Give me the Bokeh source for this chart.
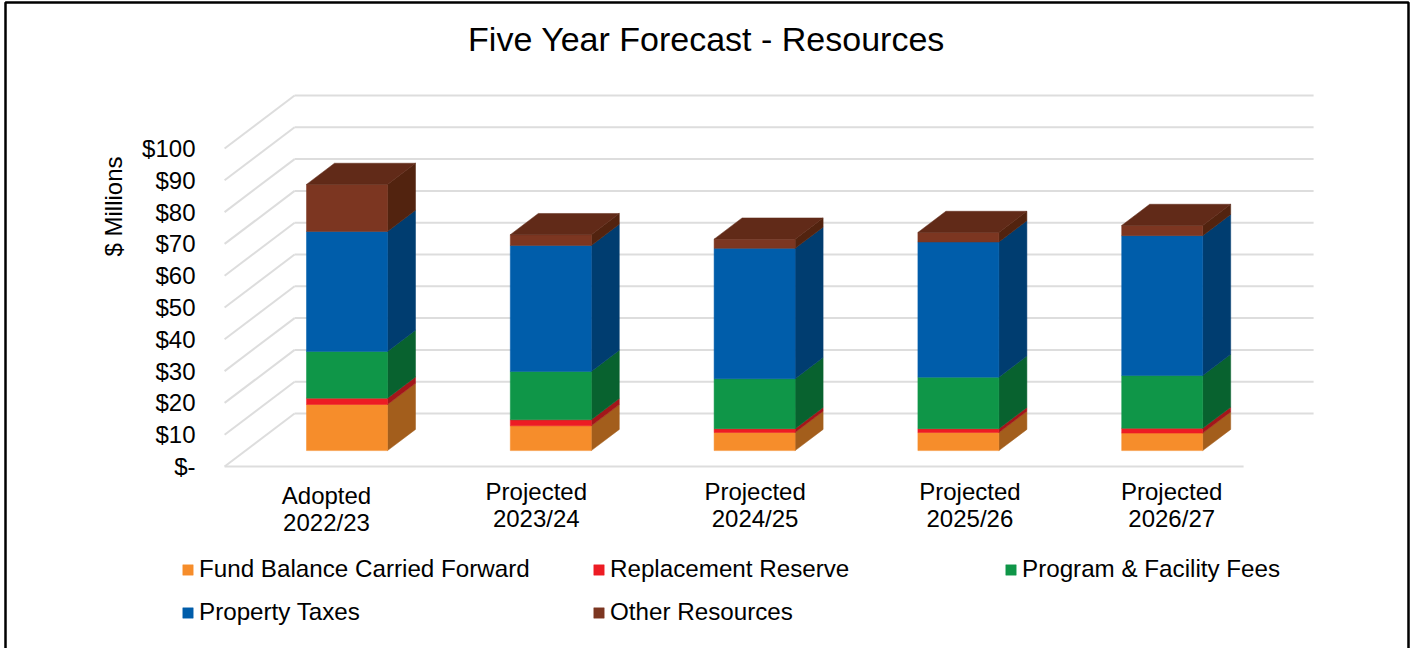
import math

from bokeh.core.properties import value
from bokeh.embed import file_html
from bokeh.models import BoxAnnotation, ColumnDataSource, FixedTicker, Label, Legend, LegendItem, Range1d
from bokeh.plotting import figure
from bokeh.resources import INLINE

# Forecast figures, $ millions per fiscal year
periods = ["Adopted\n2022/23", "Projected\n2023/24", "Projected\n2024/25", "Projected\n2025/26", "Projected\n2026/27"]
fund_balance = [14.5, 7.8, 5.7, 5.7, 5.5]
replacement_reserve = [2.0, 1.9, 1.2, 1.2, 1.5]
program_fees = [14.7, 15.2, 15.7, 16.2, 16.6]
property_taxes = [37.7, 39.6, 41.0, 42.5, 44.0]
other_resources = [14.8, 3.4, 2.9, 3.0, 3.2]
tick_values = [0, 10, 20, 30, 40, 50, 60, 70, 80, 90, 100]

series = [
    ("Fund Balance Carried Forward", fund_balance, "#F68D2B", "#A35E1C"),
    ("Replacement Reserve", replacement_reserve, "#ED1C24", "#A3161A"),
    ("Program & Facility Fees", program_fees, "#0F9648", "#08622F"),
    ("Property Taxes", property_taxes, "#005DAA", "#003D70"),
    ("Other Resources", other_resources, "#7C3621", "#52230F"),
]
top_cap_color = "#612A18"

# Screen geometry of the oblique box the bars stand in
WIDTH, HEIGHT = 1411, 648
CATEGORY_PX = 203.8
FIRST_CENTER_PX = 326
VALUE_PX = 3.18
ZERO_PX = 466
DEPTH_DX_PX = 70
DEPTH_DY_PX = 53
BAR_WIDTH_PX = 81
BAR_SHIFT_PX = -0.5
BAR_FRONT, BAR_BACK = 0.30, 0.70
LABEL_NUDGE_PX = [0, 6, 21, 32, 30]
LABEL_DROP_PX = [0, -4, -4, -4, -4]
LABEL_MID_PX = 508

depth_x = DEPTH_DX_PX / CATEGORY_PX
depth_y = DEPTH_DY_PX / VALUE_PX
half_bar = BAR_WIDTH_PX / CATEGORY_PX / 2
n = len(periods)

p = figure(
    width=WIDTH, height=HEIGHT, output_backend="svg", toolbar_location=None,
    x_range=Range1d(-FIRST_CENTER_PX / CATEGORY_PX, (WIDTH - FIRST_CENTER_PX) / CATEGORY_PX),
    y_range=Range1d((ZERO_PX - HEIGHT) / VALUE_PX, ZERO_PX / VALUE_PX),
    x_axis_location=None, min_border_left=0, min_border_right=0, min_border_top=0, min_border_bottom=0,
)
p.outline_line_color = None
p.grid.visible = False
p.background_fill_color = "white"

# The tick labels are pulled into the plot area with a negative standoff
axis = p.yaxis[0]
axis.ticker = FixedTicker(ticks=tick_values)
axis.major_label_overrides = {t: ("$-" if t == 0 else f"${t}") for t in tick_values}
axis.major_label_text_font = "Liberation Sans"
axis.major_label_text_font_size = "24px"
axis.major_label_text_color = "#000000"
axis.major_label_standoff = -201
axis.major_tick_line_color = None
axis.minor_tick_line_color = None
axis.axis_line_color = None

# Floor edge, left wall diagonals and back wall lines
grid_color = "#DDDDDD"
p.line([-0.5, n - 0.5], [0, 0], line_color=grid_color, line_width=2)
for t in tick_values:
    p.line([-0.5, -0.5 + depth_x], [t, t + depth_y], line_color=grid_color, line_width=2)
    p.line([-0.5 + depth_x, n - 0.5 + depth_x], [t + depth_y, t + depth_y], line_color=grid_color, line_width=2)

# Stacked bars: side faces and the cap as projected polygons, front faces as vbars
centers = [i + BAR_FRONT * depth_x + BAR_SHIFT_PX / CATEGORY_PX for i in range(n)]
base = [0.0] * n
front_renderers = {}
for name, values, front, side in series:
    bottoms = list(base)
    tops = [b + v for b, v in zip(bottoms, values)]
    xs, ys = [], []
    for c, b, t in zip(centers, bottoms, tops):
        right = c + half_bar
        shift_x = (BAR_BACK - BAR_FRONT) * depth_x
        xs.append([right, right + shift_x, right + shift_x, right])
        ys.append([b + BAR_FRONT * depth_y, b + BAR_BACK * depth_y, t + BAR_BACK * depth_y, t + BAR_FRONT * depth_y])
    p.patches(xs, ys, fill_color=side, line_color=side, line_width=0.5)
    source = ColumnDataSource(dict(
        x=centers,
        bottom=[b + BAR_FRONT * depth_y for b in bottoms],
        top=[t + BAR_FRONT * depth_y for t in tops],
    ))
    front_renderers[name] = p.vbar(
        x="x", width=2 * half_bar, bottom="bottom", top="top", source=source,
        fill_color=front, line_color=front, line_width=0.5,
    )
    base = tops

cap_xs, cap_ys = [], []
for c, t in zip(centers, base):
    left, right = c - half_bar, c + half_bar
    shift_x = (BAR_BACK - BAR_FRONT) * depth_x
    front_y = t + BAR_FRONT * depth_y
    back_y = t + BAR_BACK * depth_y
    cap_xs.append([left, right, right + shift_x, left + shift_x])
    cap_ys.append([front_y, front_y, back_y, back_y])
p.patches(cap_xs, cap_ys, fill_color=top_cap_color, line_color=top_cap_color, line_width=0.5)

# Period labels beneath the floor edge
p.text(
    x=[i + LABEL_NUDGE_PX[i] / CATEGORY_PX for i in range(n)],
    y=[(ZERO_PX - LABEL_MID_PX - LABEL_DROP_PX[i]) / VALUE_PX for i in range(n)],
    text=periods, text_font=value("Liberation Sans"), text_font_size="24px",
    text_color="#000000", text_align="center", text_baseline="middle", text_line_height=1.0,
)

# Legend split into three hand-spaced columns
columns = [
    (181, ["Fund Balance Carried Forward", "Property Taxes"]),
    (592, ["Replacement Reserve", "Other Resources"]),
    (1004, ["Program & Facility Fees"]),
]
for left_px, names in columns:
    legend = Legend(
        items=[LegendItem(label=nm, renderers=[front_renderers[nm]]) for nm in names],
        location=(left_px, HEIGHT - 626 if len(names) == 2 else HEIGHT - 583),
        orientation="vertical", glyph_width=13, glyph_height=13, label_standoff=5,
        spacing=15, padding=0, margin=0, border_line_color=None, background_fill_alpha=0,
        label_text_font="Liberation Sans", label_text_font_size="24.2px", label_text_color="#000000",
        click_policy="none",
    )
    p.add_layout(legend, "center")

# Chart heading, vertical axis caption and the chart's border
p.add_layout(Label(
    x=706, y=HEIGHT - 38.5, x_units="screen", y_units="screen", text="Five Year Forecast - Resources",
    text_font="Liberation Sans", text_font_size="34px", text_color="#000000",
    text_align="center", text_baseline="middle",
))
p.add_layout(Label(
    x=113, y=HEIGHT - 206, x_units="screen", y_units="screen", text="$ Millions", angle=math.pi / 2,
    text_font="Liberation Sans", text_font_size="24px", text_color="#000000",
    text_align="center", text_baseline="middle",
))
p.add_layout(BoxAnnotation(
    left=5, right=1408, top=HEIGHT - 2, bottom=-10,
    left_units="screen", right_units="screen", top_units="screen", bottom_units="screen",
    fill_alpha=0, line_color="#000000", line_width=2.5, line_alpha=1,
))

open("out.html", "w").write(file_html(p, INLINE))
